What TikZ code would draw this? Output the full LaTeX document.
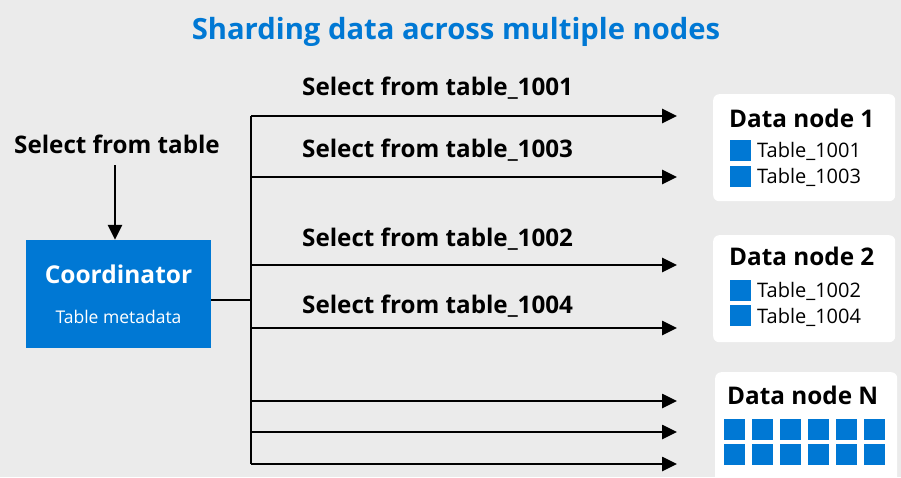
\documentclass[tikz,border=0pt]{standalone}
\usepackage{fontspec}
\setmainfont{Open Sans}
\usetikzlibrary{arrows.meta}
\definecolor{msblue}{HTML}{0078D4}
\definecolor{bggray}{HTML}{EBEBEB}
\tikzset{
  headline/.style={font=\bfseries\fontsize{29.2}{31}\selectfont, text=msblue, anchor=base, inner sep=0},
  query/.style={font=\bfseries\fontsize{24.2}{26}\selectfont, anchor=base west, inner sep=0},
  nodetitle/.style={font=\bfseries\fontsize{24.3}{26}\selectfont, anchor=base west, inner sep=0},
  tablename/.style={font=\fontsize{20}{22}\selectfont, anchor=base west, inner sep=0},
  shard/.style={fill=msblue, minimum size=21pt, inner sep=0, anchor=north west},
  databox/.style={fill=white, rounded corners=6pt, minimum width=182pt, anchor=north west, inner sep=0},
  flow/.style={line width=2.6pt, -{Triangle[length=15pt,width=14pt]}}
}
\begin{document}
\begin{tikzpicture}[x=1pt,y=-1pt]
  \fill[bggray] (0,0) rectangle (901,477);
  \useasboundingbox (0,0) rectangle (901,477);

  \node[headline] (title) at (456,39) {Sharding data across multiple nodes};

  % coordinator side
  \node[query, anchor=base] (incoming) at (117,153) {Select from table};
  \node[fill=msblue, minimum width=185pt, minimum height=108pt, inner sep=0] (coord) at (118.5,294) {};
  \node[font=\bfseries\fontsize{24.5}{26}\selectfont, text=white, anchor=base, inner sep=0] (coordname) at (118.5,283) {Coordinator};
  \node[font=\fontsize{17.5}{19}\selectfont, text=white, anchor=base, inner sep=0] (coordmeta) at (118.5,323) {Table metadata};
  \draw[flow] (incoming.south -| 115,0) ++(0,12) coordinate (qstart) -- (qstart |- coord.north);

  % bus
  \coordinate (bustop) at (251,116);
  \coordinate (busbottom) at (251,464);
  \coordinate (busjoin) at (251,300);
  \draw[line width=2.6pt] (bustop) -- (busbottom);
  \draw[line width=2.6pt] (coord.east |- busjoin) -- (busjoin);
  \foreach \y [count=\i] in {116,177,265,328,401,432,464} {
    \coordinate (src\i) at (251,\y);
    \coordinate (dst\i) at (677,\y);
    \draw[flow] (src\i) -- (dst\i);
  }
  \node[query] (q1001) at (302,95) {Select from table\_1001};
  \node[query] (q1003) at (302,157) {Select from table\_1003};
  \node[query] (q1002) at (302,246) {Select from table\_1002};
  \node[query] (q1004) at (302,313) {Select from table\_1004};

  % data nodes
  \node[databox, minimum height=107pt] (dn1) at (713,94) {};
  \node[nodetitle] (dn1name) at (729,127) {Data node 1};
  \node[shard] (dn1a) at (730,140) {};
  \node[shard] (dn1b) at (730,166) {};
  \node[tablename] (t1001) at (757,157) {Table\_1001};
  \node[tablename] (t1003) at (757,183) {Table\_1003};

  \node[databox, minimum height=107pt] (dn2) at (713,235) {};
  \node[nodetitle] (dn2name) at (729,265) {Data node 2};
  \node[shard] (dn2a) at (730,280) {};
  \node[shard] (dn2b) at (730,305) {};
  \node[tablename] (t1002) at (757,297) {Table\_1002};
  \node[tablename] (t1004) at (757,323) {Table\_1004};

  \node[databox, minimum height=120pt] (dnN) at (715,372) {};
  \node[nodetitle] (dnNname) at (727,404) {Data node N};
  \foreach \c in {0,...,5} {
    \node[shard] (grid0\c) at (724+28*\c,419) {};
    \node[shard] (grid1\c) at (724+28*\c,444) {};
  }
\end{tikzpicture}
\end{document}
